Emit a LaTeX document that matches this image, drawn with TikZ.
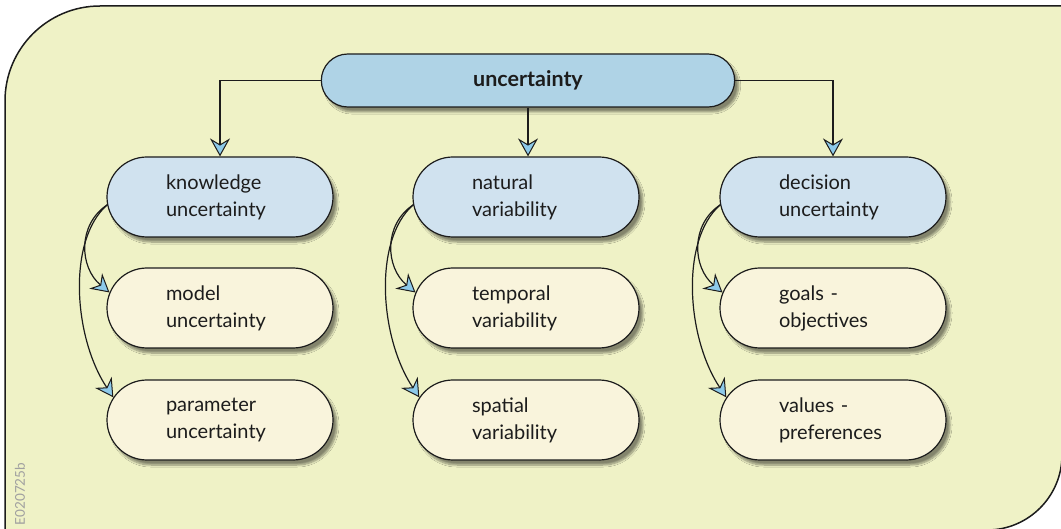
\documentclass[tikz,border=0pt]{standalone}
\usepackage{fontspec}
\setmainfont{Lato}
\usetikzlibrary{shapes.misc,arrows.meta,shadows.blur}
\definecolor{bgfill}{HTML}{EFF2C6}
\definecolor{topfill}{HTML}{AFD3E6}
\definecolor{midfill}{HTML}{D0E2EF}
\definecolor{lowfill}{HTML}{F9F4DC}
\definecolor{tipfill}{HTML}{8DCAEA}
\definecolor{txt}{HTML}{1C1C1C}
\definecolor{wmgray}{HTML}{A0A0A0}
\tikzset{
  pill/.style={rounded rectangle, draw=txt, line width=1.2pt, text=txt,
    blur shadow={shadow xshift=4pt, shadow yshift=-5pt, shadow opacity=45, shadow blur steps=8}},
  topbox/.style={pill, fill=topfill, minimum width=420pt, minimum height=53pt,
    font=\fontsize{21.5}{25}\selectfont\bfseries},
  catbox/.style={pill, fill=midfill, minimum width=226pt, minimum height=80pt,
    text width=108pt, align=left, inner xsep=0pt, font=\fontsize{20}{27}\selectfont},
  subbox/.style={catbox, fill=lowfill},
  conn/.style={draw=txt, line width=1.2pt,
    -{Stealth[length=18pt,width=20pt,inset=6pt,fill=tipfill,line width=1pt]}},
  frame/.style={draw=txt, line width=1.5pt}
}
\begin{document}
\begin{tikzpicture}[x=1pt,y=1pt]
\useasboundingbox (0,0) rectangle (1061,-529);
\begin{scope}
\clip (0,0) rectangle (1061,-529);
\fill[bgfill] (5,-535) -- (5,-101) arc[start angle=180,end angle=90,radius=95] -- (1070,-6) -- (1070,-455) -- (1062,-455) arc[start angle=0,end angle=-90,radius=75] -- (987,-535) -- cycle;
\draw[frame] (5,-535) -- (5,-101) arc[start angle=180,end angle=90,radius=95] -- (1070,-6);
\draw[frame] (1062,-430) -- (1062,-455) arc[start angle=0,end angle=-90,radius=75];
\end{scope}

\node[rotate=90, text=wmgray, font=\fontsize{13.5}{13.5}\selectfont] (wm) at (20,-494) {E020725b};

\node[topbox] (top) at (528,-80.5) {uncertainty};

\node[catbox] (k) at (220,-197) {knowledge\\uncertainty};
\node[catbox] (n) at (526,-197) {natural\\variability};
\node[catbox] (d) at (833,-197) {decision\\uncertainty};

\node[subbox] (k1) at (220,-308) {model\\uncertainty};
\node[subbox] (k2) at (220,-420) {parameter\\uncertainty};
\node[subbox] (n1) at (526,-308) {temporal\\variability};
\node[subbox] (n2) at (526,-420) {spatial\\variability};
\node[subbox] (d1) at (833,-308) {goals -\\objectives};
\node[subbox] (d2) at (833,-420) {values -\\preferences};

\draw[conn] (top.west) -| (k.north);
\draw[conn] (top.south) -- (top.south |- n.north);
\draw[conn] (top.east) -| (d.north);

\foreach \p in {k,n,d}{
  \draw[conn] (\p.184) .. controls +(-30,-20) and +(-30,25) .. (\p1.172);
  \draw[conn] (\p.184) .. controls +(-40,-35) and +(-40,60) .. (\p2.168);
}
\end{tikzpicture}
\end{document}
